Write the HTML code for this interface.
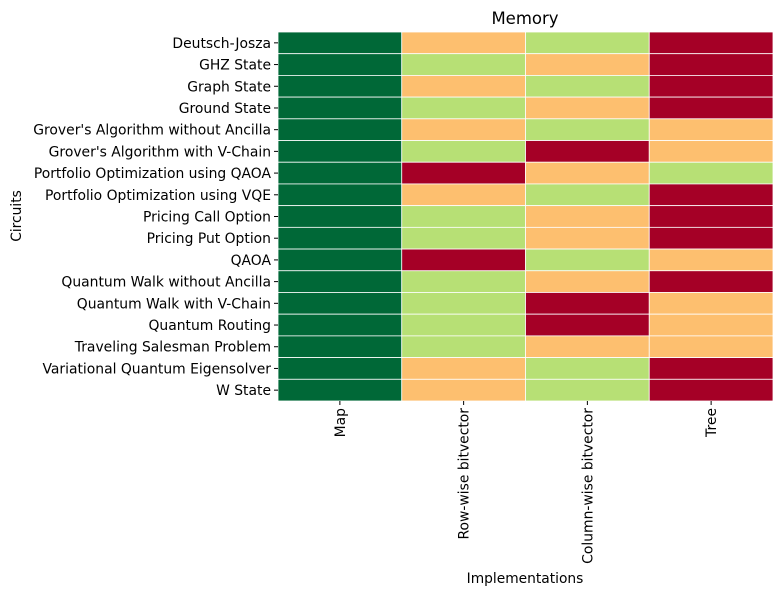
<!DOCTYPE html>
<html><head><meta charset="utf-8"><style>
body{margin:0;background:#fff;}
svg text{font-family:"DejaVu Sans","Liberation Sans",sans-serif;fill:#000;}
</style></head><body>
<svg id="chart" width="783" height="596" xmlns="http://www.w3.org/2000/svg">
<text x="525" y="24" font-size="16.5" text-anchor="middle">Memory</text>
<g id="cells"></g><g id="ylabels"></g><g id="xlabels"></g>
<text x="525" y="583" font-size="13.8" text-anchor="middle">Implementations</text>
<text x="21" y="216" font-size="13.8" text-anchor="middle" transform="rotate(-90 21 216)">Circuits</text>
</svg>
<script>
const circuits=["Deutsch-Josza","GHZ State","Graph State","Ground State","Grover's Algorithm without Ancilla","Grover's Algorithm with V-Chain","Portfolio Optimization using QAOA","Portfolio Optimization using VQE","Pricing Call Option","Pricing Put Option","QAOA","Quantum Walk without Ancilla","Quantum Walk with V-Chain","Quantum Routing","Traveling Salesman Problem","Variational Quantum Eigensolver","W State"];
const implementations=["Map","Row-wise bitvector","Column-wise bitvector","Tree"];
const mapRank=[1,1,1,1,1,1,1,1,1,1,1,1,1,1,1,1,1];
const rowRank=[3,2,3,2,3,2,4,3,2,2,4,2,2,2,2,3,3];
const colRank=[2,3,2,3,2,4,3,2,3,3,2,3,4,4,3,2,2];
const treeRank=[4,4,4,4,3,3,2,4,4,4,3,4,3,3,3,4,4];
const series=[mapRank,rowRank,colRank,treeRank];
const palette={1:"#006837",2:"#b7e075",3:"#fdbf6f",4:"#a50026"};
const X0=278,X1=773,Y0=32,Y1=401;
const cw=(X1-X0)/implementations.length, ch=(Y1-Y0)/circuits.length;
const xPos=i=>X0+i*cw, yPos=j=>Y0+j*ch;
const NS="http://www.w3.org/2000/svg";
const cells=document.getElementById('cells'),yl=document.getElementById('ylabels'),xl=document.getElementById('xlabels');
series.forEach((s,i)=>s.forEach((v,j)=>{
 const r=document.createElementNS(NS,'rect');
 r.setAttribute('x',xPos(i));r.setAttribute('y',yPos(j));r.setAttribute('width',cw);r.setAttribute('height',ch);
 r.setAttribute('fill',palette[v]);r.setAttribute('stroke','#fff');r.setAttribute('stroke-width','0.8');
 
 
 cells.appendChild(r);
}));
circuits.forEach((c,j)=>{
 const y=yPos(j)+ch/2;
 const t=document.createElementNS(NS,'text');
 t.setAttribute('x',X0-7);t.setAttribute('y',y+5);t.setAttribute('font-size','13.9');t.setAttribute('text-anchor','end');t.textContent=c;
 
 
 yl.appendChild(t);
 const l=document.createElementNS(NS,'line');
 l.setAttribute('x1',X0-4);l.setAttribute('x2',X0);l.setAttribute('y1',y);l.setAttribute('y2',y);l.setAttribute('stroke','#000');
 
 
 yl.appendChild(l);
});
implementations.forEach((c,i)=>{
 const x=xPos(i)+cw/2;
 const t=document.createElementNS(NS,'text');
 t.setAttribute('x',x+5);t.setAttribute('y',Y1+7);t.setAttribute('font-size','13.9');t.setAttribute('text-anchor','end');
 t.setAttribute('transform','rotate(-90 '+(x+5)+' '+(Y1+7)+')');t.textContent=c;
 
 
 xl.appendChild(t);
 const l=document.createElementNS(NS,'line');
 l.setAttribute('x1',x);l.setAttribute('x2',x);l.setAttribute('y1',Y1);l.setAttribute('y2',Y1+4);l.setAttribute('stroke','#000');
 
 
 xl.appendChild(l);
});
</script>
</body></html>
